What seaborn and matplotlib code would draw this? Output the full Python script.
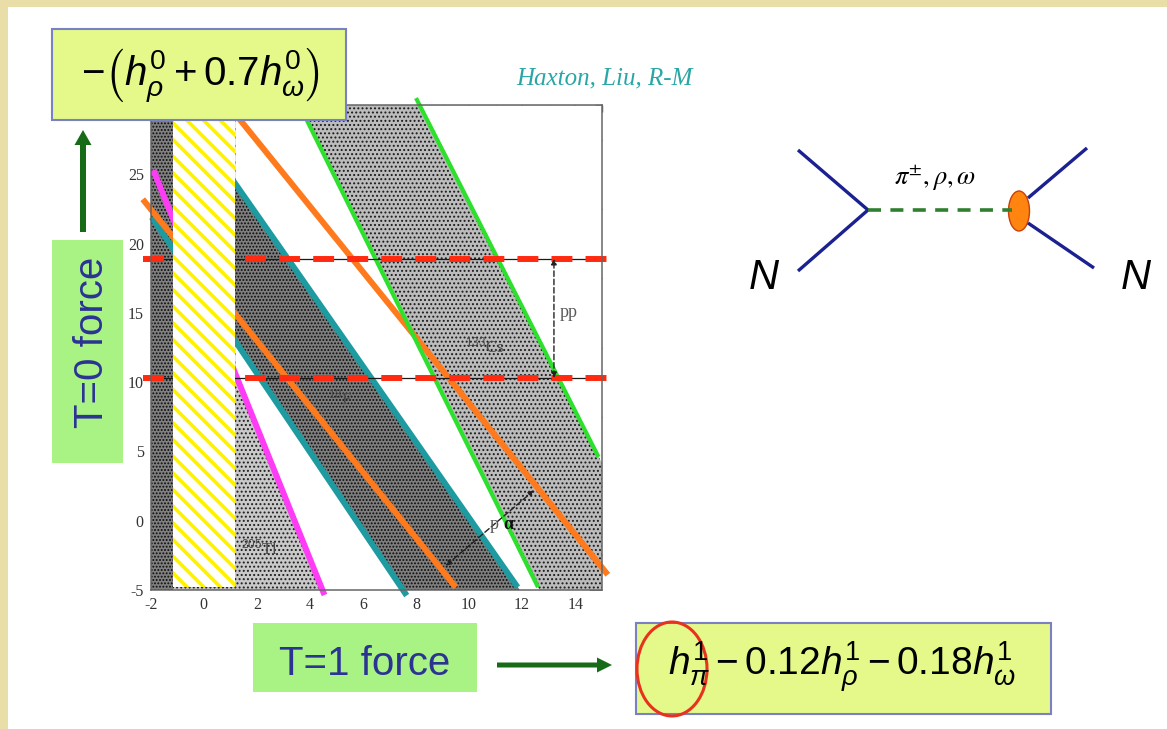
import numpy as np
import pandas as pd
import matplotlib
matplotlib.use("Agg")
import matplotlib.pyplot as plt
import seaborn as sns
from matplotlib.patches import Rectangle, Ellipse, FancyArrow
from matplotlib.ticker import MultipleLocator

# ---------------- data ----------------
line_names = ["magenta", "teal_lo", "teal_hi", "orange_lo", "orange_hi", "green_lo", "green_hi"]
line_colors = ["#FF3CF5", "#1E9BA0", "#1E9BA0", "#FF7A1C", "#FF7A1C", "#2CE02C", "#2CE02C"]
line_widths = [4.3, 4.3, 4.3, 4.3, 4.3, 3.0, 3.0]
x_start = [-1.9, -1.96, 0.5, -2.3, 1.0, 3.55, 8.0]
y_start = [25.3, 21.9, 26.2, 23.2, 29.8, 30.2, 30.5]
x_end = [4.55, 7.65, 11.83, 9.5, 15.23, 12.6, 14.88]
y_end = [-5.36, -5.4, -4.8, -4.8, -3.9, -4.8, 4.6]

pp_levels = [10.3, 18.9]          # horizontal pp bounds
pp_dash_x = [-2.3, 15.3]
yellow_x = [-1.17, 1.17]
yellow_y = [-4.76, 30.0]

x_ticks = [-2, 0, 2, 4, 6, 8, 10, 12, 14]
y_ticks = [-5, 0, 5, 10, 15, 20, 25]
x_lim = [-2, 15]
y_lim = [-5, 30]

iso_labels = ["$^{18}$F", "$^{133}$Cs", "$^{205}$Tl"]
iso_x = [5.15, 10.6, 2.1]
iso_y = [8.8, 12.6, -2.0]

# ---------------- style ----------------
sns.set_style("white")
plt.rcParams["font.family"] = ["Liberation Serif", "DejaVu Serif"]
plt.rcParams["mathtext.fontset"] = "custom"
plt.rcParams["mathtext.rm"] = "Liberation Sans"
plt.rcParams["mathtext.it"] = "Liberation Sans:italic"
plt.rcParams["mathtext.bf"] = "Liberation Sans:bold"
plt.rcParams["axes.unicode_minus"] = False
plt.rcParams["hatch.linewidth"] = 0.9

W, H = 1167, 729
fig = plt.figure(figsize=(W / 100, H / 100), dpi=100)
fig.patch.set_facecolor("white")
ax = fig.add_axes([150.7 / W, 1 - 590 / H, 451 / W, 485 / H])
ax.set_xlim(*x_lim)
ax.set_ylim(*y_lim)
ax.set_facecolor("white")


def yline(i, x):
    s = (y_end[i] - y_start[i]) / (x_end[i] - x_start[i])
    return y_start[i] + s * (x - x_start[i])


idx = {n: i for i, n in enumerate(line_names)}
xs = np.linspace(x_lim[0], x_lim[1], 1200)
xr = xs[xs >= yellow_x[1]]
lo, hi = y_lim

# light stippled background
ax.fill_between(x_lim, lo, hi, facecolor="#c9c9c9", edgecolor="#1e1e1e",
                hatch="....", lw=0, zorder=0.5)
# darker strip on the far left
ax.fill_between([x_lim[0], yellow_x[0]], lo, hi, facecolor="#808080",
                edgecolor="#0a0a0a", hatch=".....", lw=0, zorder=0.6)


def band(a, b, **kw):
    ya = np.clip(a, lo, hi)
    yb = np.clip(b, lo, hi)
    ax.fill_between(xr, ya, yb, where=yb > ya, lw=0, interpolate=True, **kw)


# white gaps
band(yline(idx["magenta"], xr), yline(idx["teal_lo"], xr), facecolor="white", zorder=0.7)
band(yline(idx["teal_hi"], xr), yline(idx["green_lo"], xr), facecolor="white", zorder=0.7)
band(yline(idx["green_hi"], xr), np.full_like(xr, hi), facecolor="white", zorder=0.7)
# dark 18F band
band(yline(idx["teal_lo"], xr), yline(idx["teal_hi"], xr), facecolor="#7e7e7e",
     edgecolor="#0a0a0a", hatch=".....", zorder=0.8)
# Cs band
band(yline(idx["green_lo"], xr), yline(idx["green_hi"], xr), facecolor="#bcbcbc",
     edgecolor="#1a1a1a", hatch="....", zorder=0.8)

# diagonal constraint lines (seaborn)
rows = []
for i, n in enumerate(line_names):
    rows.append((n, x_start[i], y_start[i]))
    rows.append((n, x_end[i], y_end[i]))
df = pd.DataFrame(rows, columns=["line", "x", "y"])
for i, n in enumerate(line_names):
    sns.lineplot(data=df[df.line == n], x="x", y="y", color=line_colors[i],
                 lw=line_widths[i], sort=False, estimator=None, ax=ax,
                 legend=False, zorder=2, clip_on=False, solid_capstyle="butt")

# pp horizontal bounds
for yv in pp_levels:
    ax.plot(x_lim, [yv, yv], color="#1a1a1a", lw=0.9, zorder=3)
    ax.plot(pp_dash_x, [yv, yv], color="#FF2A10", lw=4.3, zorder=3.5,
            dashes=(3.5, 2.2), clip_on=False, solid_capstyle="butt", dash_capstyle="butt")

# yellow hatched strip
ystrip = Rectangle((yellow_x[0], yellow_y[0]), yellow_x[1] - yellow_x[0],
                   yellow_y[1] - yellow_y[0], facecolor="white", edgecolor="#FFF200",
                   hatch="\\\\", lw=0, zorder=4)
if hasattr(ystrip, "set_hatch_linewidth"):
    ystrip.set_hatch_linewidth(2.6)
ax.add_patch(ystrip)

# annotations inside plot
ax.annotate("", xy=(13.2, pp_levels[1]), xytext=(13.2, pp_levels[0]),
            arrowprops=dict(arrowstyle="<|-|>", color="#222222", lw=1.0, ls=(0, (4, 2)),
                            mutation_scale=8, shrinkA=0, shrinkB=0), zorder=5)
ax.text(13.75, 15.0, "pp", fontsize=13, color="#5a5a5a", ha="center", va="center", zorder=5)
ax.annotate("", xy=(12.45, 2.2), xytext=(9.12, -3.25),
            arrowprops=dict(arrowstyle="<|-|>", color="#222222", lw=1.0, ls=(0, (4, 2)),
                            mutation_scale=8, shrinkA=0, shrinkB=0), zorder=5)
ax.text(10.95, -0.3, "p", fontsize=13, color="#5a5a5a", ha="center", va="center", zorder=6)
ax.text(11.5, -0.3, "α", fontsize=13, fontweight="bold", color="#111111",
        ha="center", va="center", zorder=6)
for t, xv, yv in zip(iso_labels, iso_x, iso_y):
    ax.text(xv, yv, t, fontsize=12, color="#4a4a4a", ha="center", va="center", zorder=6)

# ticks
ax.set_xticks(x_ticks)
ax.set_yticks(y_ticks)
ax.xaxis.set_minor_locator(MultipleLocator(1))
ax.yaxis.set_minor_locator(MultipleLocator(2.5))
ax.tick_params(which="both", direction="in", top=True, right=True, colors="#444444",
               labelsize=11.5, labelcolor="#333333", pad=5)
ax.tick_params(which="major", length=9, width=1.1)
ax.tick_params(which="minor", length=5, width=1.0)
for sp in ax.spines.values():
    sp.set_color("#666666")
    sp.set_linewidth(1.1)
    sp.set_zorder(6)
ax.set_xlabel("")
ax.set_ylabel("")

# ---------------- overlay in pixel coordinates ----------------
ov = fig.add_axes([0, 0, 1, 1], zorder=10)
ov.set_xlim(0, W)
ov.set_ylim(H, 0)
ov.axis("off")
ov.patch.set_alpha(0)

beige = "#E9DDA8"
ov.add_patch(Rectangle((0, 0), W, 6.5, facecolor=beige, lw=0))
ov.add_patch(Rectangle((0, 0), 8, H, facecolor=beige, lw=0))

box_fc = "#E4F98A"
box_ec = "#7A80C4"
ov.add_patch(Rectangle((52, 29), 294, 91, facecolor=box_fc, edgecolor=box_ec, lw=1.5))
ov.text(200, 76, r"$-\left(h_{\rho}^{0}+0.7h_{\omega}^{0}\right)$", fontsize=29,
        ha="center", va="center", color="black")

ov.add_patch(Rectangle((636, 623), 415, 91, facecolor=box_fc, edgecolor=box_ec, lw=1.5))
ov.text(842, 667, r"$h_{\pi}^{1}-0.12h_{\rho}^{1}-0.18h_{\omega}^{1}$", fontsize=28,
        ha="center", va="center", color="black")
ov.add_patch(Ellipse((672, 669), 70, 94, facecolor="none", edgecolor="#E8321E", lw=2.2))

ov.text(605, 78, "Haxton, Liu, R-M", fontsize=18, style="italic", color="#2BA6A6",
        ha="center", va="center", family=["Liberation Serif", "DejaVu Serif"])

force_green = "#A8F383"
force_text = "#2B3393"
ov.add_patch(Rectangle((52, 240), 71, 223, facecolor=force_green, lw=0))
ov.text(92, 342, "T=0 force", rotation=90, fontsize=29, color=force_text,
        ha="center", va="center", family=["Liberation Sans", "DejaVu Sans"])
ov.add_patch(Rectangle((253, 623), 224, 69, facecolor=force_green, lw=0))
ov.text(365, 664, "T=1 force", fontsize=29, color=force_text,
        ha="center", va="center", family=["Liberation Sans", "DejaVu Sans"])

arrow_green = "#176B17"
ov.add_patch(FancyArrow(83, 232, 0, -102, width=6, head_width=17, head_length=15,
                        length_includes_head=True, color=arrow_green, lw=0))
ov.add_patch(FancyArrow(497, 665, 115, 0, width=5, head_width=15, head_length=15,
                        length_includes_head=True, color=arrow_green, lw=0))

# Feynman diagram
navy = "#1B2190"
ov.plot([798, 868, 798], [150, 210, 271], color=navy, lw=2.4, solid_capstyle="butt")
ov.plot([1028, 1087], [198, 148], color=navy, lw=2.4, solid_capstyle="butt")
ov.plot([1028, 1094], [223, 268], color=navy, lw=2.4, solid_capstyle="butt")
ov.plot([868, 1012], [210, 210], color="#2F7F2F", lw=2.6, dashes=(3.6, 2.6))
ov.add_patch(Ellipse((1019, 211), 21, 40, facecolor="#FF8410", edgecolor="#C8400A", lw=1.0))
ov.text(935, 178, r"$\pi^{\pm}, \rho, \omega$", fontsize=19, ha="center", va="center",
        math_fontfamily="stix", color="black")
ov.text(764, 278, "N", fontsize=30, style="italic", ha="center", va="center",
        family=["Liberation Sans", "DejaVu Sans"], color="black")
ov.text(1136, 278, "N", fontsize=30, style="italic", ha="center", va="center",
        family=["Liberation Sans", "DejaVu Sans"], color="black")

fig.savefig("out.png", dpi=100)
